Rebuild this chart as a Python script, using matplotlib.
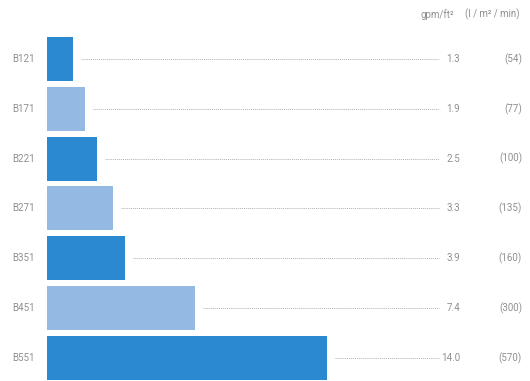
import matplotlib.pyplot as plt

models = ['B121', 'B171', 'B221', 'B271', 'B351', 'B451', 'B551']
gpm = [1.3, 1.9, 2.5, 3.3, 3.9, 7.4, 14.0]
lpm = [54, 77, 100, 135, 160, 300, 570]
colors = ['#2a89d0', '#94b9e3', '#2a89d0', '#94b9e3', '#2a89d0', '#94b9e3', '#2a89d0']

TXT = '#8f8f8f'
FONT = 'Roboto'

fig = plt.figure(figsize=(5.30, 3.81), dpi=100)
ax = fig.add_axes([0, 0, 1, 1])
ax.set_xlim(-2.35, 24.15)
ax.set_ylim(6.466, -1.185)
ax.axis('off')

y = list(range(len(models)))
ax.barh(y, gpm, height=0.88, left=0, color=colors, edgecolor='none')

for i, (m, g, l) in enumerate(zip(models, gpm, lpm)):
    ax.text(-1.75, i, m, ha='left', va='center', fontsize=7, color=TXT, family=FONT)
    ax.plot([g + 0.4, 19.6], [i, i], color='#b0b0b0', lw=0.7,
            linestyle=(0, (1, 1)))
    ax.text(20.65, i, f'{g:.1f}', ha='right', va='center', fontsize=7,
            color=TXT, family=FONT)
    ax.text(23.75, i, f'({l})', ha='right', va='center', fontsize=7,
            color=TXT, family=FONT)

ax.text(19.5, -0.9, 'gpm/ft²', ha='center', va='center', fontsize=7,
        color=TXT, family=FONT)
ax.text(22.25, -0.9, '(l / m² / min)', ha='center', va='center', fontsize=7,
        color=TXT, family=FONT)

fig.savefig('out.png', dpi=100)
